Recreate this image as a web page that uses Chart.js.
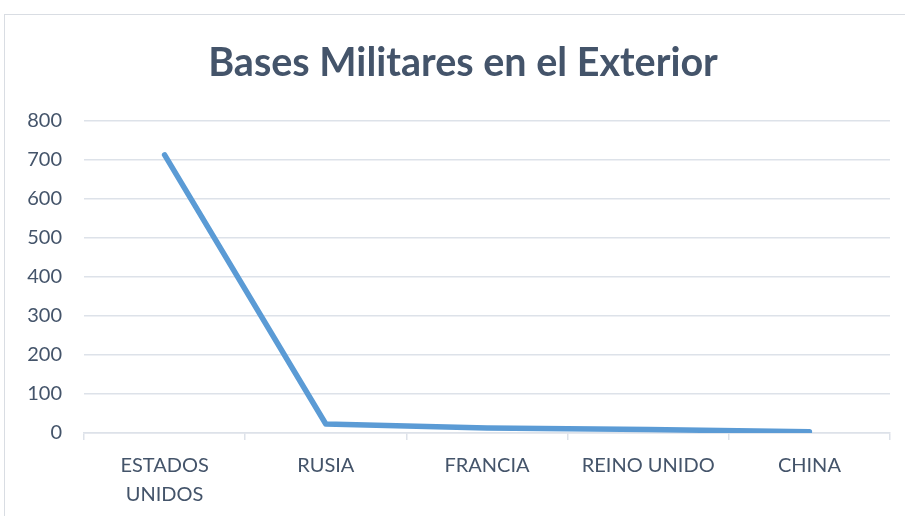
<!DOCTYPE html>
<html lang="es">
<head>
    <meta charset="UTF-8">
    <title>Bases Militares en el Exterior</title>
    <script src="https://cdn.jsdelivr.net/npm/chart.js"></script>
    <style>
        body { margin: 0; background: #fff; }
        .frame { position: absolute; left: 4px; top: 14px; width: 1000px; height: 1000px; border: 1px solid #d9dde3; }
        .chart-container { position: absolute; left: 0; top: 0; width: 905px; height: 516px; }
    </style>
</head>
<body>
<div class="frame"></div>
<div class="chart-container">
    <canvas id="basesChart"></canvas>
</div>

<script>
// datos
const titulo = "Bases Militares en el Exterior";
const paises = [["ESTADOS", "UNIDOS"], "RUSIA", "FRANCIA", "REINO UNIDO", "CHINA"];
const bases = [713, 23, 13, 9, 3];
const yTicks = [0, 100, 200, 300, 400, 500, 600, 700, 800];

const textColor = "#44546a";
const gridColor = "#dde2e9";

// the original title is centred on the full (wider) frame, not on the canvas
const titlePlugin = {
    id: "frameTitle",
    afterDraw(chart) {
        const c = chart.ctx;
        c.save();
        c.font = "bold 39.5px Lato";
        c.fillStyle = textColor;
        c.textAlign = "center";
        c.textBaseline = "middle";
        c.fillText(titulo, 463, 63);
        c.restore();
    }
};

const ctx = document.getElementById("basesChart").getContext("2d");

new Chart(ctx, {
    type: "line",
    data: {
        labels: paises,
        datasets: [{
            label: "Bases",
            data: bases,
            borderColor: "#5b9bd5",
            borderWidth: 5.5,
            borderCapStyle: "round",
            borderJoinStyle: "round",
            pointRadius: 0,
            tension: 0,
            fill: false
        }]
    },
    plugins: [titlePlugin],
    options: {
        responsive: true,
        maintainAspectRatio: false,
        animation: false,
        layout: { padding: { left: 0, right: 15, top: 121, bottom: 1 } },
        plugins: {
            legend: { display: false },
            tooltip: { enabled: false },
            title: { display: false }
        },
        scales: {
            x: {
                offset: true,
                afterFit: (scale) => { scale.height = scale.height - 5; },
                grid: {
                    offset: true,
                    drawOnChartArea: false,
                    color: gridColor,
                    lineWidth: 1.5,
                    tickLength: 7
                },
                border: { color: gridColor, width: 1.5 },
                ticks: {
                    color: textColor,
                    font: { family: "Lato", size: 20, lineHeight: 1.45 },
                    maxRotation: 0,
                    autoSkip: false,
                    padding: 11
                }
            },
            y: {
                min: 0,
                max: 800,
                afterBuildTicks: (scale) => { scale.ticks = yTicks.map(v => ({ value: v })); },
                afterFit: (scale) => { scale.width = 84; },
                grid: { color: gridColor, lineWidth: 1.5, drawTicks: false },
                border: { display: false },
                ticks: {
                    color: textColor,
                    font: { family: "Lato", size: 20 },
                    padding: 22
                }
            }
        }
    }
});
</script>
</body>
</html>
